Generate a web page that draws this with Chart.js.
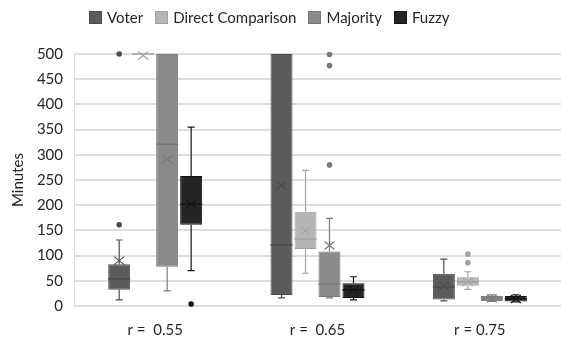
<!DOCTYPE html>
<html>
<head>
<meta charset="utf-8">
<script src="https://cdn.jsdelivr.net/npm/chart.js@4.4.1/dist/chart.umd.min.js"></script>
<style>
  html, body { margin: 0; padding: 0; background: #fff; overflow: hidden; }
  #wrap { position: relative; width: 561px; height: 343px; }
  #legend { position: absolute; left: 89px; top: 10px; display: flex; align-items: center;
            font-family: "Lato", sans-serif; font-size: 15px; color: #262626; line-height: 14px; }
  .item { display: flex; align-items: center; margin-right: 12px; }
  .sw { width: 13px; height: 13px; margin-right: 5px; box-sizing: border-box; border: 1px solid; }
</style>
</head>
<body>
<div id="wrap">
  <canvas id="c"></canvas>
  <div id="legend"></div>
</div>
<script>
// ---- data ----
const categories = ['r =  0.55', 'r =  0.65', 'r = 0.75'];
const seriesNames = ['Voter', 'Direct Comparison', 'Majority', 'Fuzzy'];
// each entry: [min, q1, median, q3, max] per category
const voterBox    = [[12, 32, 54, 83, 131], [16, 22, 121, 500, 500], [10, 13, 38, 64, 93]];
const voterMean   = [90, 239, 40];
const voterOutliers = [[161, 500], [], []];
const directBox   = [[500, 500, 500, 500, 500], [65, 113, 133, 187, 269], [33, 40, 48, 57, 68]];
const directMean  = [497, 149, 48];
const directOutliers = [[], [], [86, 103]];
const majorityBox = [[30, 78, 321, 500, 500], [16, 18, 44, 108, 174], [9, 10, 15, 20, 22]];
const majorityMean = [291, 120, 15];
const majorityOutliers = [[], [280, 477, 499], []];
const fuzzyBox    = [[70, 161, 202, 258, 355], [12, 16, 32, 45, 58], [8, 9, 14, 20, 22]];
const fuzzyMean   = [202, 32, 14];
const fuzzyOutliers = [[4], [], []];
const yTicks = [0, 50, 100, 150, 200, 250, 300, 350, 400, 450, 500];

// ---- styles ----
const fills   = ['#5b5b5b', '#b5b5b5', '#8a8a8a', '#242424'];
const borders = ['#4c4c4c', '#a3a3a3', '#7a7a7a', '#151515'];

const boxes = [voterBox, directBox, majorityBox, fuzzyBox];
const means = [voterMean, directMean, majorityMean, fuzzyMean];
const outliers = [voterOutliers, directOutliers, majorityOutliers, fuzzyOutliers];

const datasets = seriesNames.map((name, d) => ({
  label: name,
  data: boxes[d].map(b => [b[1], b[3]]),
  stats: boxes[d],
  means: means[d],
  outliers: outliers[d],
  backgroundColor: fills[d],
  borderColor: borders[d],
  borderWidth: 1,
  borderSkipped: false,
  categoryPercentage: 0.591,
  barPercentage: 0.917
}));

// legend (HTML)
const lg = document.getElementById('legend');
seriesNames.forEach((n, d) => {
  const it = document.createElement('div'); it.className = 'item';
  const sw = document.createElement('div'); sw.className = 'sw';
  sw.style.background = fills[d]; sw.style.borderColor = borders[d];
  const tx = document.createElement('span'); tx.textContent = n;
  it.appendChild(sw); it.appendChild(tx); lg.appendChild(it);
});

const boxPlugin = {
  id: 'boxExtras',
  afterDatasetsDraw(chart) {
    const ctx = chart.ctx, ys = chart.scales.y;
    chart.data.datasets.forEach((ds, d) => {
      const meta = chart.getDatasetMeta(d);
      meta.data.forEach((bar, i) => {
        const s = ds.stats[i];
        const x = bar.x, w = bar.width;
        const col = borders[d];
        ctx.save();
        ctx.strokeStyle = col; ctx.lineWidth = 1.2;
        const yMin = ys.getPixelForValue(s[0]), yQ1 = ys.getPixelForValue(s[1]);
        const yMed = ys.getPixelForValue(s[2]), yQ3 = ys.getPixelForValue(s[3]);
        const yMax = ys.getPixelForValue(s[4]);
        ctx.beginPath();
        if (s[0] < s[1]) {
          ctx.moveTo(x, yQ1); ctx.lineTo(x, yMin);
          ctx.moveTo(x - 3.5, yMin); ctx.lineTo(x + 3.5, yMin);
        }
        if (s[4] > s[3]) {
          ctx.moveTo(x, yQ3); ctx.lineTo(x, yMax);
          ctx.moveTo(x - 3.5, yMax); ctx.lineTo(x + 3.5, yMax);
        }
        ctx.stroke();
        // median
        ctx.beginPath(); ctx.lineWidth = 1.5;
        ctx.moveTo(x - w / 2, yMed); ctx.lineTo(x + w / 2, yMed); ctx.stroke();
        // mean X
        const ym = ys.getPixelForValue(ds.means[i]);
        ctx.beginPath(); ctx.lineWidth = 1.2;
        ctx.moveTo(x - 5, ym - 4); ctx.lineTo(x + 5, ym + 4);
        ctx.moveTo(x - 5, ym + 4); ctx.lineTo(x + 5, ym - 4);
        ctx.stroke();
        // outliers
        ctx.fillStyle = col;
        ds.outliers[i].forEach(v => {
          ctx.beginPath(); ctx.arc(x, ys.getPixelForValue(v), 2.8, 0, Math.PI * 2); ctx.fill();
        });
        ctx.restore();
      });
    });
  }
};

const fontSpec = { family: 'Lato', size: 15 };
new Chart(document.getElementById('c'), {
  type: 'bar',
  data: { labels: categories, datasets },
  options: {
    responsive: true, maintainAspectRatio: false, animation: false,
    layout: { padding: { top: 54, left: 0, right: 0, bottom: 0 } },
    plugins: { legend: { display: false }, tooltip: { enabled: false } },
    scales: {
      x: {
        grid: { display: false, drawTicks: false },
        border: { display: false },
        ticks: { padding: 15, color: '#262626', font: fontSpec },
        afterFit(s) { s.height = 37; }
      },
      y: {
        min: 0, max: 500,
        afterBuildTicks(s) { s.ticks = yTicks.map(v => ({ value: v })); },
        grid: { color: '#dedede', lineWidth: 2, drawTicks: false },
        border: { display: true, color: '#d9d9d9', width: 1 },
        ticks: { padding: 11, color: '#262626', font: fontSpec },
        title: { display: true, text: 'Minutes', color: '#262626', font: fontSpec, padding: { top: 9, bottom: 0 } },
        afterFit(s) { s.width = 74; }
      }
    }
  },
  plugins: [boxPlugin]
});
</script>
</body>
</html>
